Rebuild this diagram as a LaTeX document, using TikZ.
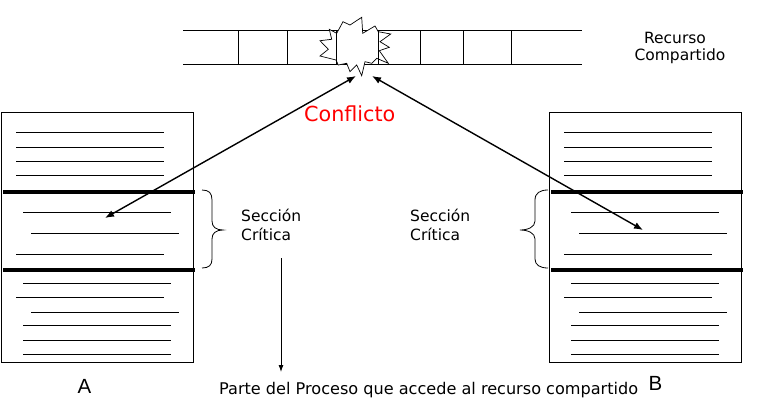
\documentclass[tikz,border=0pt]{standalone}
\usepackage{fontspec}
\setmainfont{DejaVu Sans}
\newfontfamily\arialf{Liberation Sans}
\usetikzlibrary{arrows.meta}
\begin{document}
\begin{tikzpicture}[x=1pt,y=-1pt,
  thin line/.style={line width=0.9pt},
  thick bar/.style={line width=4pt},
  boxframe/.style={line width=0.9pt},
  bigarrow/.style={line width=1.4pt,{Latex[length=9pt,width=7pt]}-{Latex[length=9pt,width=7pt]}},
  smallarrow/.style={line width=0.9pt,-{Latex[length=7pt,width=5pt]}},
  txt/.style={inner sep=0pt,font=\fontsize{15.5}{18}\selectfont},
  bigtxt/.style={inner sep=0pt,font=\arialf\fontsize{20.5}{24}\selectfont}]
\useasboundingbox[fill=white] (0,0) rectangle (758,405);

% shared resource strip
\draw[thin line] (183,30.7) -- (582,30.7);
\draw[thin line] (183,64) -- (582,64);
\foreach \x in {238,287,420,463,511} \draw[thin line] (\x,30.7) -- (\x,64);
\draw[line width=0.7pt,fill=white] (336.7,33.3) -- (343,21.7) -- (350,25) -- (361.7,17.3) -- (362.7,33.3) -- (375,26) -- (378.3,31.7) -- (390.7,34) -- (380,41.7) -- (389.3,47.3) -- (379.3,50.7) -- (388.3,63.3) -- (376.7,58.3) -- (371.7,63.3) -- (365,61.7) -- (361.7,75.7) -- (356.7,65) -- (350,71.7) -- (346.7,63.3) -- (338.3,65) -- (336,60) -- (320,56) -- (328.3,49.3) -- (320,40.7) -- (331.7,39.3) -- (329.3,29.3) -- cycle;
\draw[thin line] (336.7,30.7) -- (336.7,64) (378.3,30.7) -- (378.3,64);

% process boxes
\foreach \dx in {0,548} {
  \begin{scope}[xshift=\dx]
    \draw[boxframe] (1,112) rectangle (193,362);
    \draw[thick bar] (3,192) -- (195,192);
    \draw[thick bar] (3,270) -- (195,270);
    \foreach \y/\a/\b in {132/16/164,147/16/164,161/16/164,175/16/164,212/23/171,233/31/179,254/16/164,283/23/171,297/16/164,312/31/179,325/23/171,340/23/171,354/23/171}
      \draw[thin line] (\a,\y) -- (\b,\y);
  \end{scope}
}

% braces
\draw[line width=0.8pt] (202,190) .. controls (209,190) and (212,193) .. (212,200) -- (212,221) .. controls (212,227) and (216,230) .. (223,230) .. controls (216,230) and (212,233) .. (212,239) -- (212,259) .. controls (212,265) and (209,268) .. (202,268);
\draw[line width=0.8pt] (548,190) .. controls (540,190) and (535,193) .. (535,200) -- (535,221) .. controls (535,227) and (528,230) .. (520,230) .. controls (528,230) and (535,233) .. (535,239) -- (535,259) .. controls (535,265) and (540,268) .. (548,268);

% labels
\node[txt,anchor=base] (rec1) at (675,43) {Recurso};
\node[txt,anchor=base] (rec2) at (680,60) {Compartido};
\node[inner sep=0pt,anchor=base west,text=red,font=\fontsize{20.7}{24}\selectfont] (conf) at (304,121.5) {Conflicto};
\node[txt,anchor=base west] (sc1) at (241,221) {Sección};
\node[txt,anchor=base west] (sc2) at (241,240) {Crítica};
\node[txt,anchor=base west] (sc3) at (410,221) {Sección};
\node[txt,anchor=base west] (sc4) at (410,240) {Crítica};
\node[inner sep=0pt,anchor=base west,font=\fontsize{16.1}{19}\selectfont] (parte) at (219,394) {Parte del Proceso que accede al recurso compartido};
\node[bigtxt,anchor=base west] (A) at (77.5,393.3) {A};
\node[bigtxt,anchor=base west] (B) at (648.5,390) {B};

% arrows
\coordinate (pa) at (105,218);
\coordinate (ca) at (356,76);
\coordinate (cb) at (372,76);
\coordinate (pb) at (643,230);
\draw[bigarrow] (pa) -- (ca);
\draw[bigarrow] (cb) -- (pb);
\coordinate (vs) at (281,258);
\coordinate (ve) at (281,372);
\draw[smallarrow] (vs) -- (ve);
\end{tikzpicture}
\end{document}
